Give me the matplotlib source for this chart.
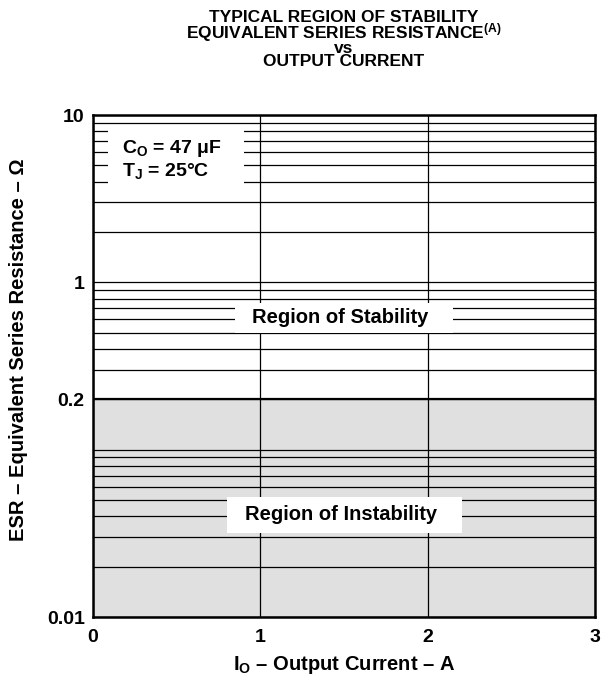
import numpy as np
import matplotlib
matplotlib.use("Agg")
import matplotlib.pyplot as plt
from matplotlib.ticker import FixedLocator, LogLocator, NullFormatter
from matplotlib.patches import Rectangle

plt.rcParams['font.family'] = ['Liberation Sans', 'DejaVu Sans']
plt.rcParams['font.weight'] = 'bold'
plt.rcParams['mathtext.fontset'] = 'custom'
plt.rcParams['mathtext.rm'] = 'Liberation Sans:bold'
plt.rcParams['mathtext.it'] = 'Liberation Sans:bold'
plt.rcParams['mathtext.bf'] = 'Liberation Sans:bold'

# data
current_range = [0, 3]            # A
current_ticks = [0, 1, 2, 3]
esr_range = [0.01, 10]            # ohm
esr_ticks = [0.01, 0.2, 1, 10]
esr_tick_labels = ['0.01', '0.2', '1', '10']
stability_boundary = 0.2          # below this ESR -> unstable

title_lines = ['TYPICAL REGION OF STABILITY',
               'EQUIVALENT SERIES RESISTANCE$^{(A)}$',
               'vs',
               'OUTPUT CURRENT']

W, H = 613, 687
fig = plt.figure(figsize=(W / 100, H / 100), dpi=100)
ax = fig.add_axes([93 / W, 1 - 617 / H, 502 / W, 502 / H])

ax.set_yscale('log')
ax.set_xlim(current_range)
ax.set_ylim(esr_range)

# unstable region shading and boundary
ax.fill_between(current_range, esr_range[0], stability_boundary,
                color='#e0e0e0', zorder=0.2, linewidth=0)
ax.plot(current_range, [stability_boundary] * 2, color='black', lw=1.6, zorder=2.5)

ax.xaxis.set_major_locator(FixedLocator(current_ticks))
ax.yaxis.set_major_locator(FixedLocator(esr_ticks))
ax.set_yticklabels(esr_tick_labels)
ax.yaxis.set_minor_locator(LogLocator(base=10, subs=np.arange(1, 10), numticks=30))
ax.yaxis.set_minor_formatter(NullFormatter())

ax.set_axisbelow(True)
ax.grid(which='both', axis='y', color='black', lw=0.9)
ax.grid(which='major', axis='x', color='black', lw=0.9)
ax.tick_params(which='both', length=0, labelsize=14)
ax.tick_params(axis='y', pad=6)
ax.tick_params(axis='x', pad=9)
for s in ax.spines.values():
    s.set_linewidth(1.8)
    s.set_zorder(5)

# label boxes
ax.add_patch(Rectangle((0.03, 0.857), 0.27, 0.121, transform=ax.transAxes,
                       facecolor='white', edgecolor='none', zorder=2))
ax.text(0.058, 0.924, r'C$_\mathrm{O}$ = 47 μF', transform=ax.transAxes,
        fontsize=14, va='baseline', ha='left', zorder=3)
ax.text(0.058, 0.878, r'T$_\mathrm{J}$ = 25°C', transform=ax.transAxes,
        fontsize=14, va='baseline', ha='left', zorder=3)

ax.add_patch(Rectangle((0.283, 0.566), 0.434, 0.059, transform=ax.transAxes,
                       facecolor='white', edgecolor='none', zorder=2))
ax.text(0.492, 0.596, 'Region of Stability', transform=ax.transAxes,
        fontsize=14.5, va='center', ha='center', zorder=3)

ax.add_patch(Rectangle((0.267, 0.167), 0.468, 0.072, transform=ax.transAxes,
                       facecolor='white', edgecolor='none', zorder=2))
ax.text(0.495, 0.205, 'Region of Instability', transform=ax.transAxes,
        fontsize=14.5, va='center', ha='center', zorder=3)

# title as one block, tight line spacing as in the reference
fig.text(344 / W, 1 - 10 / H, '\n'.join(title_lines), ha='center', va='top',
         ma='center', fontsize=12.5, linespacing=0.78)

fig.text(344 / W, 1 - 665 / H, r'I$_\mathrm{O}$ – Output Current – A',
         ha='center', va='center', fontsize=14.5)
fig.text(19 / W, 1 - 350 / H, 'ESR – Equivalent Series Resistance – Ω',
         ha='center', va='center', rotation=90, fontsize=14.5)

fig.savefig('out.png', dpi=100)
